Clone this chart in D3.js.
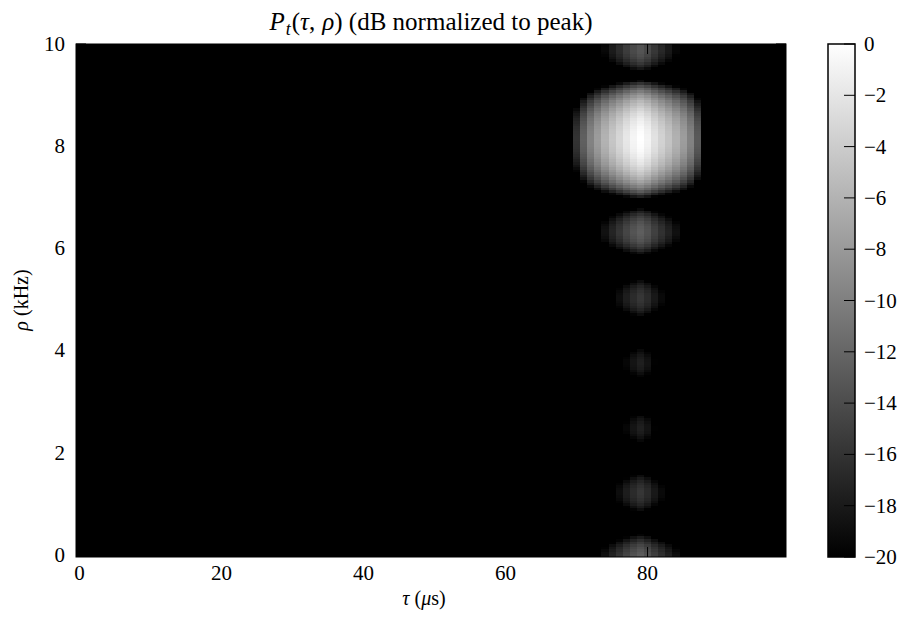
<!DOCTYPE html>
<html><head><meta charset="utf-8">
<script src="https://cdn.jsdelivr.net/npm/d3@7"></script>
<style>
body{margin:0;background:#fff}
svg{display:block}
text{font-family:"Liberation Serif","Times New Roman",serif;fill:#000}
</style>
</head><body>
<svg id="chart" width="902" height="621"></svg>
<script>
// ---------------- data ----------------
// tau columns (µs), one column per microsecond
const tauColumns = d3.range(100);
// dB contribution of each tau column (columns not listed are below the -20 dB floor)
const tauProfileStart = 69;
const tauProfileDb = [null, -16, -12.5, -9.8, -7.8, -6.0, -4.5, -3.2, -1.9, -0.8, 0,
                      -0.9, -2.3, -3.5, -4.7, -6.1, -7.7, -9.8, -13, null, null];
// dB contribution of each rho row (200 rows over 0..10 kHz, bottom to top); null = below floor
const rhoProfileDb = [
  -12.8,-13.0,-13.4,-13.85,-14.5,-15.4,-16.5,-17.9,-19.6,
  null,null,null,null,null,null,null,null,null,
  -19.0,-18.0,-17.2,-16.6,-16.2,-15.9,-15.8,-15.8,-15.9,-16.2,-16.6,-17.2,-18.0,-19.0,
  null,null,null,null,null,null,null,null,null,null,null,null,null,
  -19.4,-18.7,-18.2,-17.8,-17.6,-17.6,-17.7,-18.0,-18.4,-19.0,
  null,null,null,null,null,null,null,null,null,null,null,null,null,null,null,
  -19.6,-18.9,-18.3,-17.9,-17.7,-17.6,-17.65,-17.85,-18.2,-18.7,-19.3,
  null,null,null,null,null,null,null,null,null,null,null,null,null,
  -19.0,-18.0,-17.2,-16.6,-16.2,-15.9,-15.8,-15.8,-15.9,-16.2,-16.6,-17.2,-18.0,-19.0,
  null,null,null,null,null,null,null,null,null,null,
  -18.6,-17.0,-15.8,-14.8,-14.0,-13.4,-13.0,-12.75,-12.65,-12.7,-12.85,-13.15,-13.6,-14.25,-15.05,-16.05,-17.4,-19.1,
  null,null,null,null,
  -17.5,-15,-12.9,-11.0,-9.5,-8.2,-7.1,-6.0,-5.2,-4.4,-3.7,-3.1,-2.5,-2.0,-1.6,-1.2,-0.9,-0.6,-0.4,-0.25,
  -0.12,-0.04,0,-0.01,-0.06,-0.17,-0.3,-0.5,-0.75,-1.0,-1.35,-1.75,-2.2,-2.7,-3.3,-4.0,-4.7,-5.5,-6.5,-7.6,
  -8.8,-10.2,-11.8,-13.7,-16,-19,
  null,null,null,null,
  -18.2,-16.8,-15.7,-14.8,-14.2,-13.8,-13.5,-13.4,-13.4,-13.5
];
const xTicks = [0, 20, 40, 60, 80];
const yTicks = [0, 2, 4, 6, 8, 10];
const colorbarTicks = [0, -2, -4, -6, -8, -10, -12, -14, -16, -18, -20];
const dbFloor = -20, dbPeak = 0;

// ---------------- layout ----------------
const plot = {left: 76, right: 786, top: 44, bottom: 557};
const cbar = {left: 828, right: 855, top: 44, bottom: 557};
const tauDomain = [-0.5, 99.5];
const rhoDomain = [-0.045, 10];

const svg = d3.select("#chart");
const x = d3.scaleLinear().domain(tauDomain).range([plot.left, plot.right]);
const y = d3.scaleLinear().domain(rhoDomain).range([plot.bottom, plot.top]);
const color = d3.scaleLinear().domain([dbFloor, dbPeak]).range(["#000000", "#ffffff"]).clamp(true);

const colDb = c => {
  const k = c - tauProfileStart;
  return (k >= 0 && k < tauProfileDb.length) ? tauProfileDb[k] : null;
};
const nRows = rhoProfileDb.length;
const rowH = (rhoDomain[1] - rhoDomain[0]) / nRows;

const cells = [];
tauColumns.forEach(c => {
  rhoProfileDb.forEach((rv, r) => {
    const cv = colDb(c);
    const v = (cv === null || rv === null) ? dbFloor : Math.max(dbFloor, cv + rv);
    cells.push({c, r, v});
  });
});

const g = svg.append("g");
g.append("rect").attr("x", plot.left).attr("y", plot.top)
  .attr("width", plot.right - plot.left).attr("height", plot.bottom - plot.top)
  .attr("fill", color(dbFloor));
g.selectAll("rect.cell").data(cells.filter(d => d.v > dbFloor)).join("rect")
  .attr("class", "cell")
  .attr("x", d => x(d.c - 0.5))
  .attr("width", d => x(d.c + 0.5) - x(d.c - 0.5))
  .attr("y", d => y(rhoDomain[0] + (d.r + 1) * rowH))
  .attr("height", d => y(rhoDomain[0] + d.r * rowH) - y(rhoDomain[0] + (d.r + 1) * rowH))
  .attr("fill", d => color(d.v))
  .attr("shape-rendering", "crispEdges");

// frame
svg.append("rect").attr("x", plot.left).attr("y", plot.top)
  .attr("width", plot.right - plot.left).attr("height", plot.bottom - plot.top)
  .attr("fill", "none").attr("stroke", "#000").attr("stroke-width", 1);

// ticks (inward, on all four sides)
const tl = 10;
const tg = svg.append("g").attr("stroke", "#000").attr("stroke-width", 1);
xTicks.forEach(t => {
  tg.append("line").attr("x1", x(t)).attr("x2", x(t)).attr("y1", plot.bottom).attr("y2", plot.bottom - tl);
  tg.append("line").attr("x1", x(t)).attr("x2", x(t)).attr("y1", plot.top).attr("y2", plot.top + tl);
});
yTicks.forEach(t => {
  tg.append("line").attr("y1", y(t)).attr("y2", y(t)).attr("x1", plot.left).attr("x2", plot.left + tl);
  tg.append("line").attr("y1", y(t)).attr("y2", y(t)).attr("x1", plot.right).attr("x2", plot.right - tl);
});

// tick labels
const tickFont = 21;
svg.append("g").selectAll("text").data(xTicks).join("text")
  .attr("x", d => x(d)).attr("y", 580).attr("text-anchor", "middle")
  .attr("font-size", tickFont).text(d => d);
svg.append("g").selectAll("text").data(yTicks).join("text")
  .attr("x", 65).attr("y", d => y(d) + 7).attr("text-anchor", "end")
  .attr("font-size", tickFont).text(d => d);

// axis labels
const xl = svg.append("text").attr("x", 424).attr("y", 605).attr("text-anchor", "middle").attr("font-size", 20);
xl.append("tspan").attr("font-style", "italic").text("τ");
xl.append("tspan").text(" (");
xl.append("tspan").attr("font-style", "italic").text("μ");
xl.append("tspan").text("s)");

const yl = svg.append("text").attr("transform", "translate(28,300) rotate(-90)")
  .attr("text-anchor", "middle").attr("font-size", 20);
yl.append("tspan").attr("font-style", "italic").text("ρ");
yl.append("tspan").text(" (kHz)");

// title
const tt = svg.append("text").attr("x", 431).attr("y", 30).attr("text-anchor", "middle").attr("font-size", 25);
tt.append("tspan").attr("font-style", "italic").text("P");
tt.append("tspan").attr("font-style", "italic").attr("font-size", 18).attr("dy", 5).attr("dx", 1).text("t");
tt.append("tspan").attr("dy", -5).attr("dx", 1).text("(");
tt.append("tspan").attr("font-style", "italic").text("τ");
tt.append("tspan").text(",");
tt.append("tspan").attr("font-style", "italic").attr("dx", 7).text("ρ");
tt.append("tspan").text(")");
tt.append("tspan").text(" (dB normalized to peak)");

// colorbar
const cScale = d3.scaleLinear().domain([dbFloor, dbPeak]).range([cbar.bottom, cbar.top]);
const defs = svg.append("defs");
const grad = defs.append("linearGradient").attr("id", "cbgrad")
  .attr("x1", 0).attr("y1", 1).attr("x2", 0).attr("y2", 0);
grad.selectAll("stop").data([dbFloor, dbPeak]).join("stop")
  .attr("offset", d => (d - dbFloor) / (dbPeak - dbFloor))
  .attr("stop-color", d => color(d));
svg.append("rect").attr("x", cbar.left).attr("y", cbar.top)
  .attr("width", cbar.right - cbar.left).attr("height", cbar.bottom - cbar.top)
  .attr("fill", "url(#cbgrad)").attr("stroke", "#000").attr("stroke-width", 1.5);
const cg = svg.append("g");
colorbarTicks.forEach(t => {
  cg.append("line").attr("x1", cbar.right).attr("x2", cbar.right - 11)
    .attr("y1", cScale(t)).attr("y2", cScale(t)).attr("stroke", "#000").attr("stroke-width", 1);
});
svg.append("g").selectAll("text").data(colorbarTicks).join("text")
  .attr("x", 864).attr("y", d => cScale(d) + 7).attr("font-size", tickFont)
  .text(d => d < 0 ? "\u2212" + Math.abs(d) : String(d));
</script>
</body></html>
